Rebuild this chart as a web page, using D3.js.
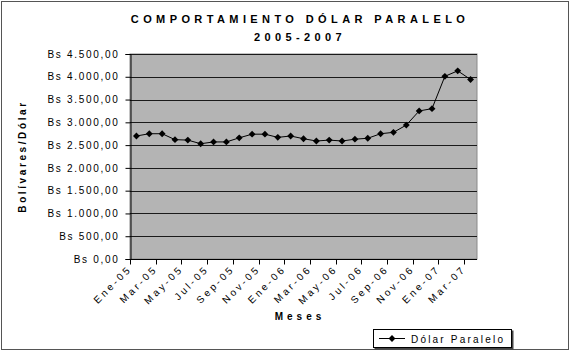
<!DOCTYPE html>
<html>
<head>
<meta charset="utf-8">
<script src="https://cdnjs.cloudflare.com/ajax/libs/d3/7.8.5/d3.min.js"></script>
<style>
  body { margin: 0; background: #fff; }
  text { font-family: "Liberation Sans", Arial, sans-serif; fill: #000; }
</style>
</head>
<body>
<div id="vis"></div>
<script>
// data
const months = [
  'Ene-05', 'Feb-05', 'Mar-05', 'Abr-05', 'May-05', 'Jun-05', 'Jul-05', 'Ago-05', 'Sep-05', 'Oct-05', 'Nov-05', 'Dic-05',
  'Ene-06', 'Feb-06', 'Mar-06', 'Abr-06', 'May-06', 'Jun-06', 'Jul-06', 'Ago-06', 'Sep-06', 'Oct-06', 'Nov-06', 'Dic-06',
  'Ene-07', 'Feb-07', 'Mar-07'
];
const dolarParalelo = [
  2700, 2750, 2750, 2620, 2610, 2530, 2570, 2570, 2660, 2740, 2740, 2670,
  2700, 2640, 2590, 2610, 2590, 2630, 2650, 2750, 2780, 2940, 3250, 3300,
  4010, 4130, 3940
];
const yTicks = [0, 500, 1000, 1500, 2000, 2500, 3000, 3500, 4000, 4500];
const titleLines = ['COMPORTAMIENTO DÓLAR PARALELO', '2005-2007'];
const seriesName = 'Dólar Paralelo';

const width = 579;
const height = 361;
const plot = { left: 130, right: 477, top: 54, bottom: 259 };

const svg = d3.select('#vis').append('svg')
  .attr('width', width)
  .attr('height', height);

// outer chart frame
svg.append('rect')
  .attr('x', 1.5).attr('y', 1.5)
  .attr('width', 567).attr('height', 348)
  .attr('fill', '#fff')
  .attr('stroke', '#555');

const x = d3.scaleBand()
  .domain(months)
  .range([plot.left, plot.right])
  .padding(0);

const y = d3.scaleLinear()
  .domain([0, 4500])
  .range([plot.bottom, plot.top]);

// format like "Bs 4.500,00"
function bs(v) {
  const s = Math.round(v).toString().replace(/\B(?=(\d{3})+(?!\d))/g, '.');
  return 'Bs ' + s + ',00';
}

// plot background
svg.append('rect')
  .attr('x', plot.left).attr('y', plot.top)
  .attr('width', plot.right - plot.left).attr('height', plot.bottom - plot.top)
  .attr('fill', '#b4b4b4')
  .attr('stroke', '#8a8a8a');

// gridlines
svg.append('g')
  .selectAll('line')
  .data(yTicks.filter(d => d > 0))
  .join('line')
  .attr('x1', plot.left).attr('x2', plot.right)
  .attr('y1', d => Math.round(y(d)) + 0.5)
  .attr('y2', d => Math.round(y(d)) + 0.5)
  .attr('stroke', '#1a1a1a')
  .attr('stroke-width', 1);

// y axis
const yAxis = svg.append('g')
  .attr('transform', `translate(${plot.left + 0.5},0)`)
  .call(d3.axisLeft(y).tickValues(yTicks).tickFormat(bs).tickSize(5).tickPadding(6));
yAxis.select('.domain').attr('stroke', '#000');
yAxis.selectAll('.tick line').attr('stroke', '#000');
yAxis.selectAll('.tick text')
  .attr('font-size', 10)
  .attr('letter-spacing', '1.7px')
  .attr('font-family', '"Liberation Sans", Arial, sans-serif')
  .attr('fill', '#000');

// x axis: ticks at every second category boundary
const boundaries = months.filter((m, i) => i % 2 === 0);
const xAxis = svg.append('g')
  .attr('transform', `translate(0,${plot.bottom + 0.5})`);
xAxis.append('line')
  .attr('x1', plot.left).attr('x2', plot.right)
  .attr('stroke', '#000');
xAxis.selectAll('line.tk')
  .data(boundaries)
  .join('line')
  .attr('class', 'tk')
  .attr('x1', d => Math.round(x(d)) + 0.5)
  .attr('x2', d => Math.round(x(d)) + 0.5)
  .attr('y1', 0).attr('y2', 5)
  .attr('stroke', '#000');
xAxis.selectAll('text')
  .data(boundaries)
  .join('text')
  .attr('transform', d => `translate(${x(d) + x.bandwidth() / 2 - 4},10) rotate(-45)`)
  .attr('text-anchor', 'end')
  .attr('font-size', 10)
  .attr('letter-spacing', '2.8px')
  .text(d => d);

// series line + diamond markers
const line = d3.line()
  .x((d, i) => x(months[i]) + x.bandwidth() / 2)
  .y(d => y(d));

svg.append('path')
  .datum(dolarParalelo)
  .attr('d', line)
  .attr('fill', 'none')
  .attr('stroke', '#000')
  .attr('stroke-width', 1);

const diamond = d3.symbol().type(d3.symbolDiamond2).size(30);
svg.append('g')
  .selectAll('path')
  .data(dolarParalelo)
  .join('path')
  .attr('d', diamond)
  .attr('transform', (d, i) => `translate(${x(months[i]) + x.bandwidth() / 2},${y(d)})`)
  .attr('fill', '#000');

// titles
svg.selectAll('text.title')
  .data(titleLines)
  .join('text')
  .attr('class', 'title')
  .attr('x', 300)
  .attr('y', (d, i) => 23 + i * 18)
  .attr('text-anchor', 'middle')
  .attr('font-size', 11)
  .attr('font-weight', 'bold')
  .attr('letter-spacing', '4.4px')
  .text(d => d);

svg.append('text')
  .attr('transform', `translate(26,${(plot.top + plot.bottom) / 2}) rotate(-90)`)
  .attr('text-anchor', 'middle')
  .attr('font-size', 10)
  .attr('font-weight', 'bold')
  .attr('letter-spacing', '2.6px')
  .text('Bolívares/Dólar');

svg.append('text')
  .attr('x', 300)
  .attr('y', 320)
  .attr('text-anchor', 'middle')
  .attr('font-size', 10)
  .attr('font-weight', 'bold')
  .attr('letter-spacing', '4px')
  .text('Meses');

// legend
const legend = svg.append('g').attr('transform', 'translate(373,329)');
legend.append('rect')
  .attr('x', 1.5).attr('y', 1.5).attr('width', 139).attr('height', 19)
  .attr('fill', '#444');
legend.append('rect')
  .attr('x', 0.5).attr('y', 0.5).attr('width', 138).attr('height', 18)
  .attr('fill', '#fff').attr('stroke', '#000');
legend.append('line')
  .attr('x1', 6).attr('x2', 32).attr('y1', 9.5).attr('y2', 9.5)
  .attr('stroke', '#000');
legend.append('path')
  .attr('d', diamond)
  .attr('transform', 'translate(19,9.5)')
  .attr('fill', '#000');
legend.append('text')
  .attr('x', 38).attr('y', 13.5)
  .attr('font-size', 10)
  .attr('letter-spacing', '2.2px')
  .text(seriesName);
</script>
</body>
</html>
